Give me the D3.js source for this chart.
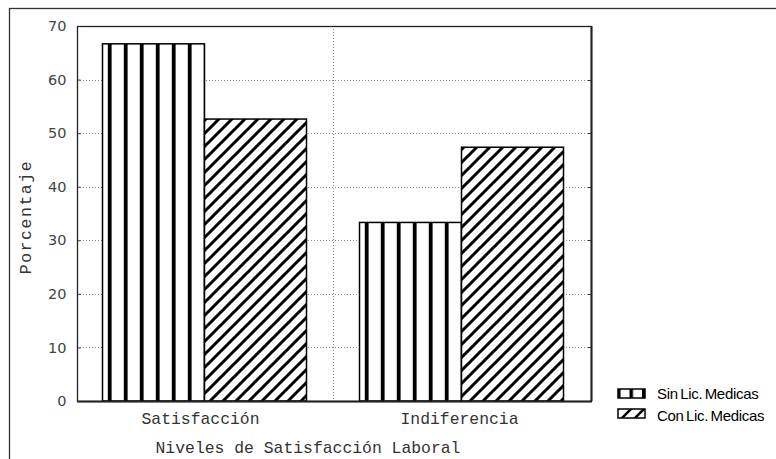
<!DOCTYPE html>
<html><head><meta charset="utf-8">
<script src="https://cdn.jsdelivr.net/npm/d3@7"></script>
<style>body{margin:0;background:#fff}svg{display:block}</style>
</head><body>
<script>
const categories = ["Satisfacción", "Indiferencia"];
const seriesNames = ["Sin Lic. Medicas", "Con Lic. Medicas"];
const sinLic = [66.67, 33.33];
const conLic = [52.63, 47.37];
const yTicks = [0, 10, 20, 30, 40, 50, 60, 70];
const yTitle = "Porcentaje";
const xTitle = "Niveles de Satisfacción Laboral";

const W = 776, H = 459;
const svg = d3.select("body").append("svg").attr("width", W).attr("height", H);
const defs = svg.append("defs");

const L = 77, R = 591, T = 26, B = 401;
const y = d3.scaleLinear().domain([0, 70]).range([B, T]);
const x0 = d3.scaleBand().domain(categories).range([L, R]).padding(0);
const x1 = d3.scaleBand().domain(seriesNames).range([25, 229]).padding(0);

// outer frame
svg.append("rect").attr("x", 9.5).attr("y", 8.5).attr("width", 780).attr("height", 470)
  .attr("fill", "none").attr("stroke", "#333").attr("stroke-width", 1.3);

// grid
const g = svg.append("g");
g.selectAll("line.hg").data(yTicks.filter(d => d > 0 && d < 70)).join("line")
  .attr("x1", L).attr("x2", R).attr("y1", d => Math.round(y(d)) + 0.5).attr("y2", d => Math.round(y(d)) + 0.5)
  .attr("stroke", "#888").attr("stroke-width", 1).attr("stroke-dasharray", "1,2");
g.append("line").attr("x1", 333.5).attr("x2", 333.5).attr("y1", T).attr("y2", B)
  .attr("stroke", "#888").attr("stroke-dasharray", "1,2");

// patterns
function vPattern(id, x0p) {
  const p = defs.append("pattern").attr("id", id).attr("patternUnits", "userSpaceOnUse")
    .attr("x", x0p).attr("y", 0).attr("width", 16).attr("height", 10);
  p.append("rect").attr("width", 16).attr("height", 10).attr("fill", "#fff");
  p.append("rect").attr("x", 4.8).attr("width", 3.8).attr("height", 10).attr("fill", "#000");
}
function diagPattern(id, size, sw) {
  const p = defs.append("pattern").attr("id", id).attr("patternUnits", "userSpaceOnUse")
    .attr("width", size).attr("height", size);
  p.append("rect").attr("width", size).attr("height", size).attr("fill", "#fff");
  p.append("path")
    .attr("d", `M-2,${size + 2} L${size + 2},-2 M-2,2 L2,-2 M${size - 2},${size + 2} L${size + 2},${size - 2}`)
    .attr("stroke", "#000").attr("stroke-width", sw);
}
diagPattern("diag", 13, 3);
diagPattern("ldiag", 13, 2.5);

// bars
const bars = [];
categories.forEach((c, i) => {
  bars.push({ c, s: seriesNames[0], v: sinLic[i], i });
  bars.push({ c, s: seriesNames[1], v: conLic[i], i });
});
bars.forEach((d, k) => {
  const bx = x0(d.c) + x1(d.s);
  let fill;
  if (d.s === seriesNames[0]) { vPattern("vp" + k, bx + 1); fill = "url(#vp" + k + ")"; }
  else fill = "url(#diag)";
  svg.append("rect").attr("x", Math.round(bx) + 0.5).attr("y", y(d.v))
    .attr("width", x1.bandwidth()).attr("height", B - y(d.v))
    .attr("fill", fill).attr("stroke", "#000").attr("stroke-width", 1.5);
});

// plot frame
svg.append("rect").attr("x", L + 0.5).attr("y", T + 0.5).attr("width", R - L).attr("height", B - T)
  .attr("fill", "none").attr("stroke", "#222").attr("stroke-width", 1.3);
svg.append("line").attr("x1", L).attr("x2", R + 1).attr("y1", B + 0.5).attr("y2", B + 0.5)
  .attr("stroke", "#222").attr("stroke-width", 2);
svg.append("line").attr("x1", R + 0.5).attr("x2", R + 0.5).attr("y1", T).attr("y2", B)
  .attr("stroke", "#222").attr("stroke-width", 2);

// y ticks
const yAxis = d3.axisLeft(y).tickValues(yTicks).tickSize(-3).tickPadding(11).tickFormat(d3.format("d"));
const ya = svg.append("g").attr("transform", `translate(${L + 0.5},0)`).call(yAxis);
ya.select(".domain").remove();
ya.selectAll("text").attr("font-family", "DejaVu Sans").attr("font-size", 14.5).attr("fill", "#444");
ya.selectAll("line").attr("stroke", "#333");
svg.selectAll("line.rt").data(yTicks.filter(d => d > 0 && d < 70)).join("line")
  .attr("x1", R - 3).attr("x2", R).attr("y1", d => Math.round(y(d)) + 0.5).attr("y2", d => Math.round(y(d)) + 0.5)
  .attr("stroke", "#333");

// x labels
svg.selectAll("text.cat").data(categories).join("text")
  .attr("x", (d, i) => x0(d) + x0.bandwidth() / 2 - 5 + i * 2).attr("y", 424)
  .attr("text-anchor", "middle").attr("font-family", "Liberation Mono").attr("font-size", 16.4)
  .attr("fill", "#333").text(d => d);

svg.append("text").attr("x", 308).attr("y", 453).attr("text-anchor", "middle")
  .attr("font-family", "Liberation Mono").attr("font-size", 16.4).attr("fill", "#333").text(xTitle);

svg.append("text").attr("transform", "translate(31,217) rotate(-90)").attr("text-anchor", "middle")
  .attr("font-family", "Liberation Mono").attr("font-size", 16.4).attr("letter-spacing", 1.6)
  .attr("fill", "#333").text(yTitle);

// legend
const lg = svg.append("g");
const lpv = defs.append("pattern").attr("id", "lvp").attr("patternUnits", "userSpaceOnUse")
  .attr("x", 617).attr("y", 0).attr("width", 12.5).attr("height", 10);
lpv.append("rect").attr("width", 12.5).attr("height", 10).attr("fill", "#fff");
lpv.append("rect").attr("x", 0).attr("width", 3.5).attr("height", 10).attr("fill", "#000");
seriesNames.forEach((s, i) => {
  const ly = 389 + i * 20;
  lg.append("rect").attr("x", 618).attr("y", ly).attr("width", 27).attr("height", 9)
    .attr("fill", i === 0 ? "url(#lvp)" : "url(#ldiag)").attr("stroke", "#000").attr("stroke-width", 1.5);
  lg.append("text").attr("x", 657).attr("y", ly + 10 + i * 2).attr("font-family", "Liberation Sans")
    .attr("font-size", 15).attr("word-spacing", -1.5).attr("letter-spacing", -0.3).attr("fill", "#000").text(s);
});
</script>
</body></html>
